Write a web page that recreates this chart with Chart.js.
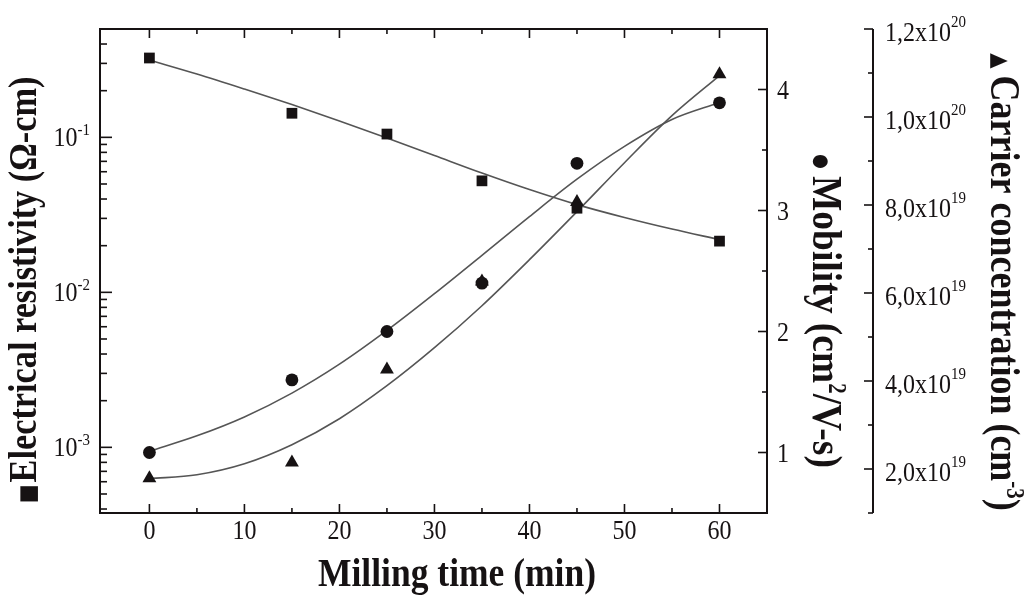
<!DOCTYPE html>
<html>
<head>
<meta charset="utf-8">
<script src="https://cdn.jsdelivr.net/npm/chart.js@4/dist/chart.umd.min.js"></script>
<style>
html,body{margin:0;padding:0;background:#fff;}
#wrap{width:1024px;height:604px;}
</style>
</head>
<body>
<div id="wrap"><canvas id="c" width="1024" height="604"></canvas></div>
<script>
// ---- data ----
const millingTime = [0, 15, 25, 35, 45, 60];
const resistivity = [0.325, 0.143, 0.105, 0.0524, 0.0349, 0.0214];
const mobility = [1.0, 1.60, 2.00, 2.40, 3.39, 3.89];
const carrier = [1.79e19, 2.15e19, 4.26e19, 6.26e19, 8.07e19, 1.097e20];

const fitTime = [0, 5, 10, 15, 20, 25, 30, 35, 40, 45, 50, 55, 60];
const resistivityFit = [0.3151, 0.2561, 0.2049, 0.1627, 0.1274, 0.0990, 0.0763, 0.0588, 0.0460, 0.0368, 0.0304, 0.0256, 0.0219];
const mobilityFit = [1.011, 1.138, 1.294, 1.491, 1.730, 2.009, 2.313, 2.630, 2.950, 3.259, 3.530, 3.752, 3.892];
const carrierFit = [1.780e19, 1.870e19, 2.120e19, 2.552e19, 3.143e19, 3.893e19, 4.757e19, 5.711e19, 6.757e19, 7.848e19, 8.961e19, 1.003e20, 1.094e20];

// ---- tick labels ----
const xTicks = [0, 10, 20, 30, 40, 50, 60];
const xMinorTicks = [5, 15, 25, 35, 45, 55];
const resistivityTicks = [1e-3, 1e-2, 1e-1];
const resistivityTickBase = ['10', '10', '10'];
const resistivityTickExp = ['-3', '-2', '-1'];
const mobilityTicks = [1, 2, 3, 4];
const mobilityMinorTicks = [1.5, 2.5, 3.5];
const carrierTicks = [2e19, 4e19, 6e19, 8e19, 1e20, 1.2e20];
const carrierTickMantissa = ['2,0x10', '4,0x10', '6,0x10', '8,0x10', '1,0x10', '1,2x10'];
const carrierTickExp = ['19', '19', '19', '19', '20', '20'];
const carrierMinorTicks = [1e19, 3e19, 5e19, 7e19, 9e19, 1.1e20];

const xTitle = 'Milling time (min)';
const leftTitle = 'Electrical resistivity (\u03A9-cm)';
const mobTitleA = 'Mobility (cm', mobTitleSup = '2', mobTitleB = '/V-s)';
const carTitleA = 'Carrier concentration (cm', carTitleSup = '-3', carTitleB = ')';

// ---- style ----
const INK = '#161213';
const LINE = '#555555';
const SERIF = '"Liberation Serif", "Times New Roman", serif';
const F_TICK = '24px ' + SERIF;
const F_SUP = '15px ' + SERIF;
const F_SYM = '20px "DejaVu Sans"';
const TICK_STRETCH = 1.1;
const TITLE_STRETCH = 1.15;

const RES_MIN = 3.77e-4, RES_MAX = 0.5;

const resistivityMinor = [];
for (const d of [1e-4, 1e-3, 1e-2, 1e-1]) {
  for (let m = 2; m <= 9; m++) {
    const v = m * d;
    if (v > RES_MIN && v < RES_MAX) resistivityMinor.push(v);
  }
}

function pts(xs, ys) { return xs.map((x, i) => ({x: x, y: ys[i]})); }

function richWidth(ctx, segs) {
  let w = 0;
  for (const s of segs) { ctx.font = s.font; w += ctx.measureText(s.text).width + (s.gap || 0); }
  return w;
}
// draws a run of text segments with its baseline at y; glyphs stretched perpendicular by `stretch`
function drawRich(ctx, segs, x, y, align, stretch) {
  const w = richWidth(ctx, segs);
  let cx = align === 'right' ? x - w : (align === 'center' ? x - w / 2 : x);
  ctx.save();
  ctx.translate(0, y);
  ctx.scale(1, stretch || 1);
  ctx.textAlign = 'left';
  ctx.textBaseline = 'alphabetic';
  for (const s of segs) {
    ctx.font = s.font;
    ctx.fillText(s.text, cx, -(s.rise || 0));
    cx += ctx.measureText(s.text).width + (s.gap || 0);
  }
  ctx.restore();
}

const decor = {
  id: 'decor',
  afterDraw(chart) {
    const ctx = chart.ctx;
    const {left, right, top, bottom} = chart.chartArea;
    const sx = chart.scales.x, sy = chart.scales.y, sy1 = chart.scales.y1, sy2 = chart.scales.y2;
    const line = (x1, y1, x2, y2) => { ctx.beginPath(); ctx.moveTo(x1, y1); ctx.lineTo(x2, y2); ctx.stroke(); };
    ctx.save();
    ctx.strokeStyle = INK;
    ctx.fillStyle = INK;
    ctx.lineWidth = 2;
    ctx.strokeRect(left, top, right - left, bottom - top);
    const cX = sy2.left;
    line(cX, top, cX, bottom);

    ctx.lineWidth = 1.6;
    xTicks.forEach(v => { const p = sx.getPixelForValue(v); line(p, bottom, p, bottom - 9); line(p, top, p, top + 9); });
    xMinorTicks.forEach(v => { const p = sx.getPixelForValue(v); line(p, bottom, p, bottom - 5); line(p, top, p, top + 5); });
    resistivityTicks.forEach(v => { const p = sy.getPixelForValue(v); line(left, p, left + 12, p); });
    resistivityMinor.forEach(v => { if (resistivityTicks.some(t => Math.abs(t - v) / t < 1e-9)) return; const p = sy.getPixelForValue(v); line(left, p, left + 7, p); });
    mobilityTicks.forEach(v => { const p = sy1.getPixelForValue(v); line(right, p, right - 9, p); });
    mobilityMinorTicks.forEach(v => { const p = sy1.getPixelForValue(v); line(right, p, right - 5, p); });
    carrierTicks.forEach(v => { const p = sy2.getPixelForValue(v); line(cX, p, cX - 9, p); });
    carrierMinorTicks.forEach(v => { const p = sy2.getPixelForValue(v); line(cX, p, cX - 5, p); });

    // x tick labels
    xTicks.forEach(v => {
      drawRich(ctx, [{text: String(v), font: F_TICK}], sx.getPixelForValue(v), 539, 'center', TICK_STRETCH);
    });
    // mobility tick labels
    mobilityTicks.forEach(v => {
      drawRich(ctx, [{text: String(v), font: F_TICK}], right + 10, sy1.getPixelForValue(v) + 9, 'left', TICK_STRETCH);
    });
    // resistivity tick labels
    resistivityTicks.forEach((v, i) => {
      drawRich(ctx, [{text: resistivityTickBase[i], font: F_TICK}, {text: resistivityTickExp[i], font: F_SUP, rise: 10}],
        left - 10, sy.getPixelForValue(v) + 9, 'right', TICK_STRETCH);
    });
    // carrier tick labels
    carrierTicks.forEach((v, i) => {
      drawRich(ctx, [{text: carrierTickMantissa[i], font: F_TICK}, {text: carrierTickExp[i], font: F_SUP, rise: 13}],
        cX + 12, sy2.getPixelForValue(v) + 12, 'left', TICK_STRETCH);
    });

    // x title
    drawRich(ctx, [{text: xTitle, font: 'bold 35.5px ' + SERIF}], 457, 586, 'center', TITLE_STRETCH);

    // left title (rotated -90)
    ctx.save();
    ctx.translate(26, 290);
    ctx.rotate(-Math.PI / 2);
    drawRich(ctx, [{text: '\u25A0', font: F_SYM, gap: 2, rise: 1}, {text: leftTitle, font: 'bold 34.3px ' + SERIF}], 0, 10, 'center', TITLE_STRETCH);
    ctx.restore();

    // mobility title (rotated +90)
    ctx.save();
    ctx.translate(823, 311);
    ctx.rotate(Math.PI / 2);
    drawRich(ctx, [{text: '\u25CF', font: '17px "DejaVu Sans"', gap: 7, rise: 2}, {text: mobTitleA, font: 'bold 37.5px ' + SERIF},
      {text: mobTitleSup, font: 'bold 21px ' + SERIF, rise: 14}, {text: mobTitleB, font: 'bold 37.5px ' + SERIF}], 0, 10, 'center', TITLE_STRETCH);
    ctx.restore();

    // carrier title (rotated +90)
    ctx.save();
    ctx.translate(1001, 282);
    ctx.rotate(Math.PI / 2);
    drawRich(ctx, [{text: '\u25B2', font: F_SYM, gap: 7, rise: 2}, {text: carTitleA, font: 'bold 36px ' + SERIF},
      {text: carTitleSup, font: 'bold 21px ' + SERIF, rise: 14}, {text: carTitleB, font: 'bold 36px ' + SERIF}], 0, 10, 'center', TITLE_STRETCH);
    ctx.restore();

    ctx.restore();
  }
};

const markerBase = {type: 'scatter', showLine: false, backgroundColor: INK, borderColor: INK, borderWidth: 0, order: 0};
const fitBase = {type: 'line', pointRadius: 0, borderColor: LINE, borderWidth: 1.6, fill: false,
  cubicInterpolationMode: 'monotone', order: 1};

new Chart(document.getElementById('c'), {
  data: {
    datasets: [
      Object.assign({}, markerBase, {label: 'Resistivity', data: pts(millingTime, resistivity), yAxisID: 'y', pointStyle: 'rect', pointRadius: 7.6}),
      Object.assign({}, markerBase, {label: 'Mobility', data: pts(millingTime, mobility), yAxisID: 'y1', pointStyle: 'circle', pointRadius: 6.4}),
      Object.assign({}, markerBase, {label: 'Carrier', data: pts(millingTime, carrier), yAxisID: 'y2', pointStyle: 'triangle', pointRadius: 8}),
      Object.assign({}, fitBase, {label: 'Resistivity fit', data: pts(fitTime, resistivityFit), yAxisID: 'y'}),
      Object.assign({}, fitBase, {label: 'Mobility fit', data: pts(fitTime, mobilityFit), yAxisID: 'y1'}),
      Object.assign({}, fitBase, {label: 'Carrier fit', data: pts(fitTime, carrierFit), yAxisID: 'y2'})
    ]
  },
  options: {
    responsive: false,
    animation: false,
    devicePixelRatio: 1,
    layout: {padding: {top: 29, left: 0, right: 0, bottom: 0}},
    plugins: {legend: {display: false}, tooltip: {enabled: false}},
    scales: {
      x: {type: 'linear', position: 'bottom', min: -5.2, max: 65,
        grid: {display: false}, border: {display: false}, ticks: {display: false},
        afterFit(s) { s.height = 91; }},
      y: {type: 'logarithmic', position: 'left', min: RES_MIN, max: RES_MAX,
        grid: {display: false}, border: {display: false}, ticks: {display: false},
        afterFit(s) { s.width = 100; }},
      y1: {type: 'linear', position: 'right', weight: 0, min: 0.5, max: 4.5,
        grid: {display: false}, border: {display: false}, ticks: {display: false},
        afterFit(s) { s.width = 106; }},
      y2: {type: 'linear', position: 'right', weight: 1, min: 1e19, max: 1.2e20,
        grid: {display: false}, border: {display: false}, ticks: {display: false},
        afterFit(s) { s.width = 151; }}
    }
  },
  plugins: [decor]
});
</script>
</body>
</html>
